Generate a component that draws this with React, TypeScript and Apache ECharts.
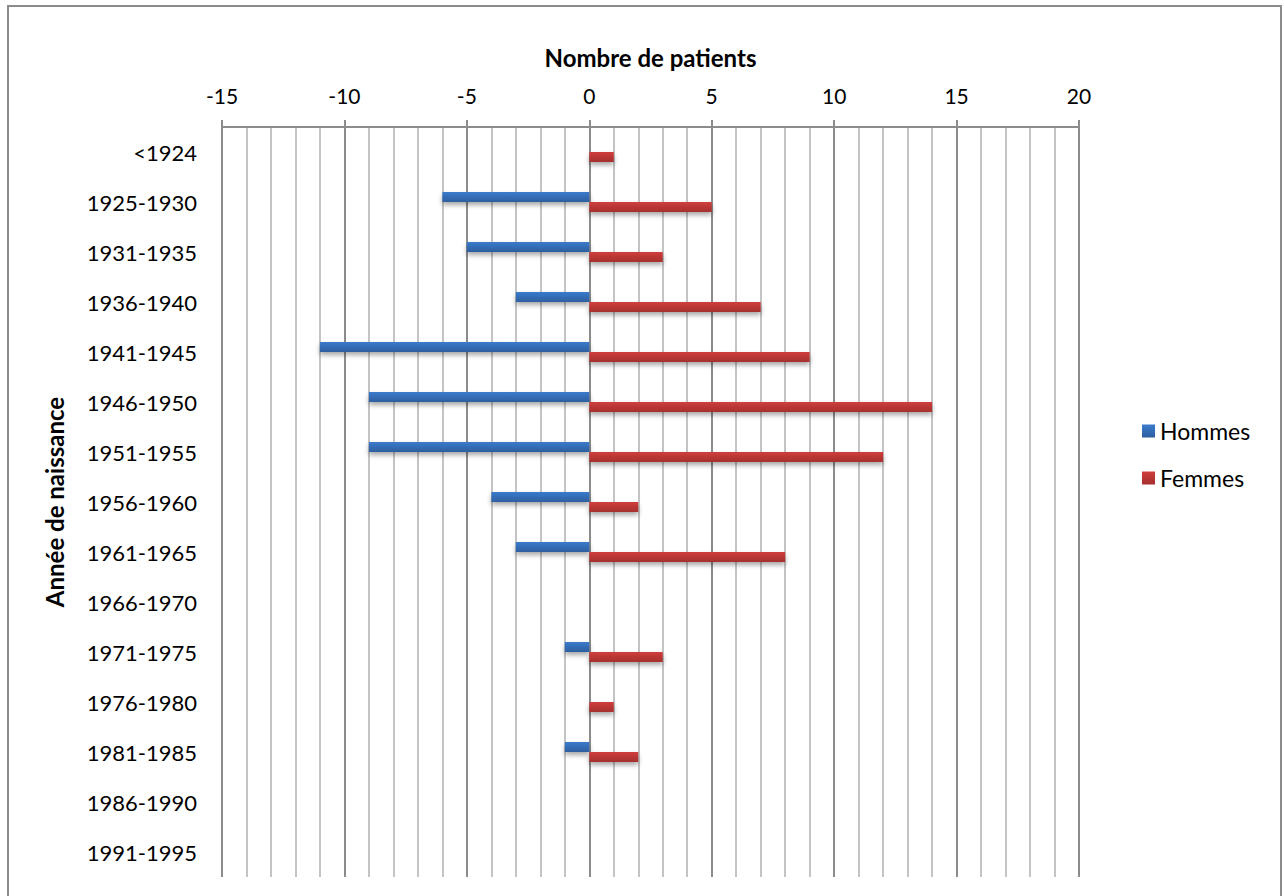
import React, { useEffect, useRef } from "react";
import * as echarts from "echarts";

const categories = [
  "<1924", "1925-1930", "1931-1935", "1936-1940", "1941-1945", "1946-1950",
  "1951-1955", "1956-1960", "1961-1965", "1966-1970", "1971-1975",
  "1976-1980", "1981-1985", "1986-1990", "1991-1995",
];
const hommes = [0, -6, -5, -3, -11, -9, -9, -4, -3, 0, -1, 0, -1, 0, 0];
const femmes = [1, 5, 3, 7, 9, 14, 12, 2, 8, 0, 3, 1, 2, 0, 0];
const seriesNames = ["Hommes", "Femmes"];
const xTitle = "Nombre de patients";
const yTitle = "Année de naissance";

const FONT = "Lato, 'Open Sans', sans-serif";

export default function App() {
  const ref = useRef<HTMLDivElement>(null);
  useEffect(() => {
    if (!ref.current) return;
    const chart = echarts.init(ref.current, null, { renderer: "svg" });
    const blue = new echarts.graphic.LinearGradient(0, 0, 0, 1, [
      { offset: 0, color: "#3b7bcc" },
      { offset: 1, color: "#2d5e9f" },
    ]);
    const red = new echarts.graphic.LinearGradient(0, 0, 0, 1, [
      { offset: 0, color: "#d03e3c" },
      { offset: 1, color: "#a52f2e" },
    ]);
    chart.setOption({
      animation: false,
      backgroundColor: "#ffffff",
      textStyle: { fontFamily: FONT },
      graphic: [
        {
          type: "rect",
          shape: { x: 8, y: 6, width: 1273, height: 910 },
          style: { fill: "none", stroke: "#8c8c8c", lineWidth: 2 },
          silent: true,
        },
      ],
      grid: { left: 222, right: 205, top: 127, bottom: 19, containLabel: false },
      legend: {
        orient: "vertical",
        left: 1137,
        top: 414,
        itemWidth: 13,
        itemHeight: 13,
        itemGap: 23,
        icon: "rect",
        textStyle: { fontFamily: FONT, fontSize: 23, lineHeight: 24, color: "#000" },
        data: seriesNames,
      },
      xAxis: {
        type: "value",
        position: "top",
        min: -15,
        max: 20,
        interval: 5,
        name: xTitle,
        nameLocation: "middle",
        nameGap: 58,
        nameTextStyle: { fontFamily: FONT, fontSize: 24, fontWeight: "bold", color: "#000" },
        axisLine: { show: true, lineStyle: { color: "#8c8c8c", width: 2 } },
        axisTick: { show: true, length: 7, lineStyle: { color: "#8c8c8c", width: 2 } },
        axisLabel: { fontFamily: FONT, fontSize: 21, color: "#000", margin: 21 },
        splitLine: { show: true, lineStyle: { color: "#8c8c8c", width: 2 } },
        minorTick: { show: false, splitNumber: 5 },
        minorSplitLine: { show: true, lineStyle: { color: "#c4c4c4", width: 2 } },
      },
      yAxis: {
        type: "category",
        inverse: true,
        data: categories,
        name: yTitle,
        nameLocation: "middle",
        nameRotate: 90,
        nameGap: 156,
        nameTextStyle: { fontFamily: FONT, fontSize: 24, fontWeight: "bold", color: "#000" },
        axisLine: { show: false },
        axisTick: { show: false },
        axisLabel: { fontFamily: FONT, fontSize: 22, color: "#000", margin: 25 },
        splitLine: { show: false },
      },
      series: [
        {
          name: seriesNames[0],
          type: "bar",
          data: hommes,
          barWidth: 10,
          barGap: "0%",
          itemStyle: {
            color: blue,
            shadowColor: "rgba(0,0,0,0.35)",
            shadowBlur: 5,
            shadowOffsetY: 3,
          },
        },
        {
          name: seriesNames[1],
          type: "bar",
          data: femmes,
          barWidth: 10,
          barGap: "0%",
          itemStyle: {
            color: red,
            shadowColor: "rgba(0,0,0,0.35)",
            shadowBlur: 5,
            shadowOffsetY: 3,
          },
        },
      ],
    });
    return () => chart.dispose();
  }, []);
  return (
    <div
      ref={ref}
      style={{ position: "absolute", left: 0, top: 0, width: 1284, height: 896 }}
    />
  );
}
